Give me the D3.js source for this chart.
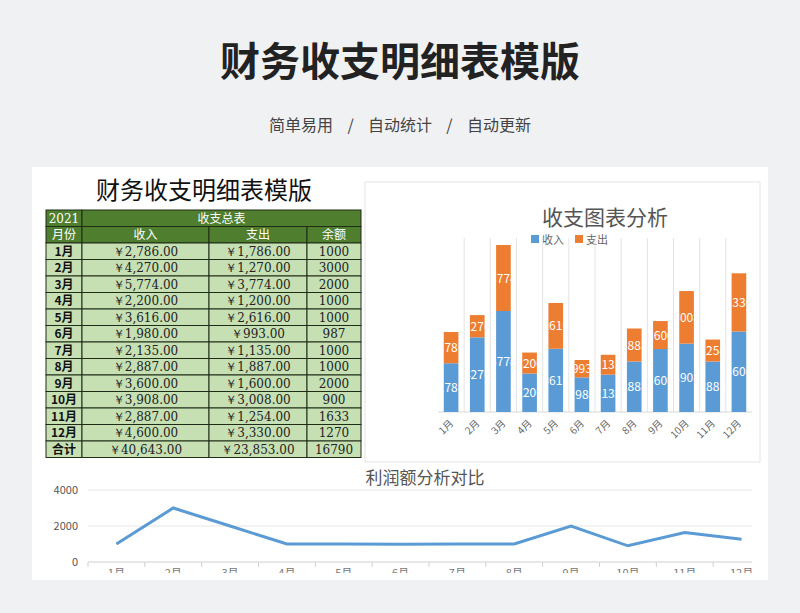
<!DOCTYPE html>
<html><head><meta charset="utf-8">
<script src="https://cdn.jsdelivr.net/npm/d3@7"></script>
<style>
body{margin:0;background:#f0f1f3;font-family:"Noto Sans CJK SC","Noto Sans",sans-serif;}
</style></head>
<body><div id="chart"></div>
<script>
// --- Data ---
const months = ['1月','2月','3月','4月','5月','6月','7月','8月','9月','10月','11月','12月'];
const income = [2786, 4270, 5774, 2200, 3616, 1980, 2135, 2887, 3600, 3908, 2887, 4600];
const expense = [1786, 1270, 3774, 1200, 2616, 993, 1135, 1887, 1600, 3008, 1254, 3330];
const balance = [1000, 3000, 2000, 1000, 1000, 987, 1000, 1000, 2000, 900, 1633, 1270];
const lineTicks = [0, 2000, 4000];

const W = 800, H = 613;
const svg = d3.select('#chart').append('svg').attr('width', W).attr('height', H);
const fmt = v => '￥' + d3.format(',.2f')(v);

// header
svg.append('text').attr('x', W/2).attr('y', 76).attr('text-anchor', 'middle')
  .attr('font-size', 40).attr('font-weight', 'bold').attr('fill', '#222').text('财务收支明细表模版');
svg.append('text').attr('x', W/2).attr('y', 131).attr('text-anchor', 'middle')
  .attr('font-size', 16).attr('fill', '#444').attr('xml:space', 'preserve')
  .text('简单易用    /    自动统计    /    自动更新');

// card
svg.append('rect').attr('x', 32).attr('y', 167).attr('width', 736).attr('height', 413).attr('fill', '#fff');
const defs = svg.append('defs');
defs.append('clipPath').attr('id', 'card').append('rect').attr('x', 32).attr('y', 167).attr('width', 736).attr('height', 406);

// --- Table ---
const tbl = svg.append('g');
tbl.append('text').attr('x', 204).attr('y', 199).attr('text-anchor', 'middle')
  .attr('font-size', 24).attr('fill', '#111').attr('font-family', 'Noto Sans CJK SC').text('财务收支明细表模版');
const cols = [46, 82, 209, 307, 361];
const rowH = 16.5, tTop = 210;
const serif = '"DejaVu Serif","Liberation Serif",serif';
function cell(x0, x1, y, txt, fill, color, bold) {
  tbl.append('rect').attr('x', x0).attr('y', y).attr('width', x1 - x0).attr('height', rowH)
    .attr('fill', fill).attr('stroke', '#1f2d16').attr('stroke-width', 1);
  tbl.append('text').attr('x', (x0 + x1)/2).attr('y', y + rowH/2 + 4.5).attr('text-anchor', 'middle')
    .attr('font-size', 12).attr('fill', color).attr('font-weight', bold ? 'bold' : 'normal')
    .attr('font-family', /[0-9￥]/.test(txt) && !/月/.test(txt) ? serif : 'Noto Sans CJK SC').text(txt);
}
const dk = '#4f7f2e', lt = '#c6e0b4';
cell(cols[0], cols[1], tTop, '2021', dk, '#fff');
cell(cols[1], cols[4], tTop, '收支总表', dk, '#fff');
['月份','收入','支出','余额'].forEach((t, i) => cell(cols[i], cols[i+1], tTop + rowH, t, dk, '#fff'));
months.forEach((m, r) => {
  const y = tTop + rowH * (r + 2);
  cell(cols[0], cols[1], y, m, lt, '#111', true);
  cell(cols[1], cols[2], y, fmt(income[r]), lt, '#222');
  cell(cols[2], cols[3], y, fmt(expense[r]), lt, '#222');
  cell(cols[3], cols[4], y, String(balance[r]), lt, '#222');
});
const ty = tTop + rowH * 14;
cell(cols[0], cols[1], ty, '合计', lt, '#111', true);
cell(cols[1], cols[2], ty, fmt(d3.sum(income)), lt, '#222');
cell(cols[2], cols[3], ty, fmt(d3.sum(expense)), lt, '#222');
cell(cols[3], cols[4], ty, String(d3.sum(balance)), lt, '#222');

// --- Stacked bar chart ---
const bc = svg.append('g');
bc.append('rect').attr('x', 365).attr('y', 182).attr('width', 395).attr('height', 280)
  .attr('fill', '#fff').attr('stroke', '#e4e4e4');
bc.append('text').attr('x', 605).attr('y', 225).attr('text-anchor', 'middle')
  .attr('font-size', 21).attr('fill', '#555').text('收支图表分析');
[['收入', '#5b9bd5', 531], ['支出', '#ed7d31', 575]].forEach(([t, c, x]) => {
  bc.append('rect').attr('x', x).attr('y', 235).attr('width', 8).attr('height', 8).attr('fill', c);
  bc.append('text').attr('x', x + 11).attr('y', 243.5).attr('font-size', 11).attr('fill', '#666').text(t);
});
const bx = d3.scaleBand().domain(months).range([438, 752]).paddingInner(0.44).paddingOuter(0.22);
const by = d3.scaleLinear().domain([0, 9548]).range([412, 245]);
const step = bx.step();
months.forEach((m, i) => {
  if (i > 0) bc.append('line').attr('x1', bx(m) - step*0.22).attr('x2', bx(m) - step*0.22)
    .attr('y1', 238).attr('y2', 412).attr('stroke', '#e3e3e3');
});
bc.append('line').attr('x1', 438).attr('x2', 752).attr('y1', 412).attr('y2', 412).attr('stroke', '#d9d9d9');
months.forEach((m, i) => {
  const x = bx(m), w = bx.bandwidth();
  const segs = [[0, income[i], '#5b9bd5'], [income[i], income[i] + expense[i], '#ed7d31']];
  segs.forEach(([a, b, c], k) => {
    const id = `bc${i}_${k}`;
    defs.append('clipPath').attr('id', id).append('rect').attr('x', x).attr('y', by(b)).attr('width', w).attr('height', by(a) - by(b));
    bc.append('rect').attr('x', x).attr('y', by(b)).attr('width', w).attr('height', by(a) - by(b)).attr('fill', c);
    bc.append('text').attr('clip-path', `url(#${id})`).attr('x', x + w/2).attr('y', (by(a) + by(b))/2 + 4.5)
      .attr('text-anchor', 'middle').attr('font-size', 12).attr('fill', '#fff').text(b - a);
  });
  bc.append('text').attr('transform', `translate(${x + w/2 + 3},${424}) rotate(-45)`)
    .attr('text-anchor', 'end').attr('font-size', 10).attr('fill', '#666').text(m);
});

// --- Line chart ---
const lc = svg.append('g').attr('clip-path', 'url(#card)');
lc.append('text').attr('x', 425).attr('y', 484).attr('text-anchor', 'middle')
  .attr('font-size', 17).attr('fill', '#555').text('利润额分析对比');
const lx = d3.scaleBand().domain(months).range([88, 770]);
const ly = d3.scaleLinear().domain([0, 4000]).range([562, 490]);
lineTicks.forEach(t => {
  lc.append('line').attr('x1', 88).attr('x2', 752).attr('y1', ly(t)).attr('y2', ly(t))
    .attr('stroke', t === 0 ? '#d0d0d0' : '#e6e6e6');
  lc.append('text').attr('x', 78).attr('y', ly(t) + 4).attr('text-anchor', 'end')
    .attr('font-size', 11).attr('fill', '#555').text(t);
});
months.forEach(m => {
  lc.append('line').attr('x1', lx(m)).attr('x2', lx(m)).attr('y1', 562).attr('y2', 567).attr('stroke', '#d0d0d0');
  lc.append('text').attr('x', lx(m) + lx.bandwidth()/2).attr('y', 577).attr('text-anchor', 'middle')
    .attr('font-size', 11).attr('fill', '#777').text(m);
});
lc.append('path').datum(balance)
  .attr('d', d3.line().x((d, i) => lx(months[i]) + lx.bandwidth()/2).y(d => ly(d)))
  .attr('fill', 'none').attr('stroke', '#5b9bd5').attr('stroke-width', 3);
</script></body></html>
